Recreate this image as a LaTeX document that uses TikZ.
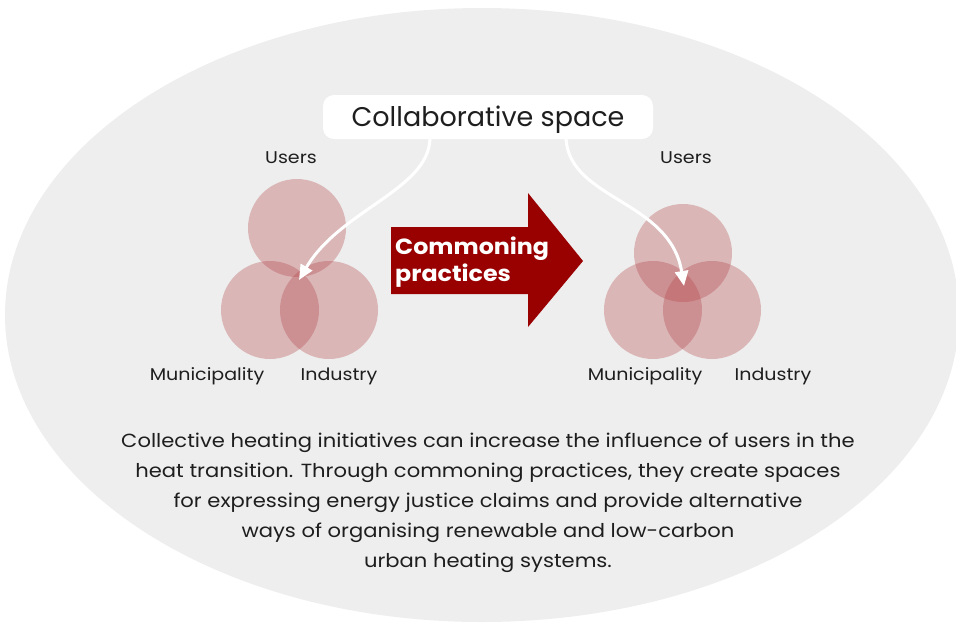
\documentclass[tikz,border=0pt]{standalone}
\usepackage{fontspec}
\setmainfont{Poppins}
\usetikzlibrary{arrows.meta}
\definecolor{bgc}{RGB}{238,238,238}
\definecolor{venn}{RGB}{178,66,70}
\definecolor{darkred}{RGB}{153,0,0}
\definecolor{txt}{RGB}{30,30,30}
\tikzset{
  vc/.style={circle, minimum size=98pt, inner sep=0pt, fill=venn, fill opacity=0.32, draw=none},
  lbl/.style={text=txt, font=\addfontfeatures{FakeStretch=1.12}\fontsize{17}{20}\selectfont, inner sep=0pt},
  wa/.style={draw=white, line width=3pt, -{Triangle[length=15pt,width=13pt]}},
}
\begin{document}
\begin{tikzpicture}[x=1pt,y=-1pt]
\useasboundingbox (0,0) rectangle (956,622);
\clip (0,0) rectangle (956,622);
\fill[bgc] (482,315) ellipse [x radius=477, y radius=307];
% collaborative box
\node[fill=white, rounded corners=11pt, minimum width=330pt, minimum height=44pt, inner sep=0pt] (cs) at (488,117) {};
\node[font=\fontsize{27}{30}\selectfont, text=txt, inner sep=0pt] (cst) at (488,120) {Collaborative space};
% left venn
\node[vc] (lu) at (297,228) {};
\node[vc] (lm) at (270,310) {};
\node[vc] (li) at (329,310) {};
% right venn
\node[vc] (ru) at (683,253) {};
\node[vc] (rm) at (653,310) {};
\node[vc] (ri) at (712,310) {};
% labels
\node[lbl] (lul) at (291,158) {Users};
\node[lbl] (rul) at (686,158) {Users};
\node[lbl] (lml) at (207,376) {Municipality};
\node[lbl] (lil) at (339,376) {Industry};
\node[lbl] (rml) at (645,376) {Municipality};
\node[lbl] (ril) at (773,376) {Industry};
% big arrow
\fill[darkred] (391,227) -- (528,227) -- (528,193) -- (583,261) -- (528,327) -- (528,294) -- (391,294) -- cycle;
\node[anchor=west, text=white, font=\bfseries\addfontfeatures{FakeStretch=1.08}\fontsize{22}{27}\selectfont, align=left, inner sep=0pt] (cp) at (395,262) {Commoning\\practices};
% white arrows
\coordinate (ls) at (430,139);
\coordinate (lt) at (299,280);
\coordinate (rs) at (566,139);
\coordinate (rt) at (684,286);
\draw[wa] (ls) .. controls (428,190) and (340,210) .. (lt);
\draw[wa] (rs) .. controls (570,200) and (670,200) .. (rt);
% paragraph
\node[text=txt, font=\addfontfeatures{FakeStretch=1.11}\fontsize{19}{30}\selectfont, align=center, inner sep=0pt] (para) at (488,503)
{Collective heating initiatives can increase the influence of users in the\\
heat transition. Through commoning practices, they create spaces\\
for expressing energy justice claims and provide alternative\\
ways of organising renewable and low-carbon\\
urban heating systems.};
\end{tikzpicture}
\end{document}
